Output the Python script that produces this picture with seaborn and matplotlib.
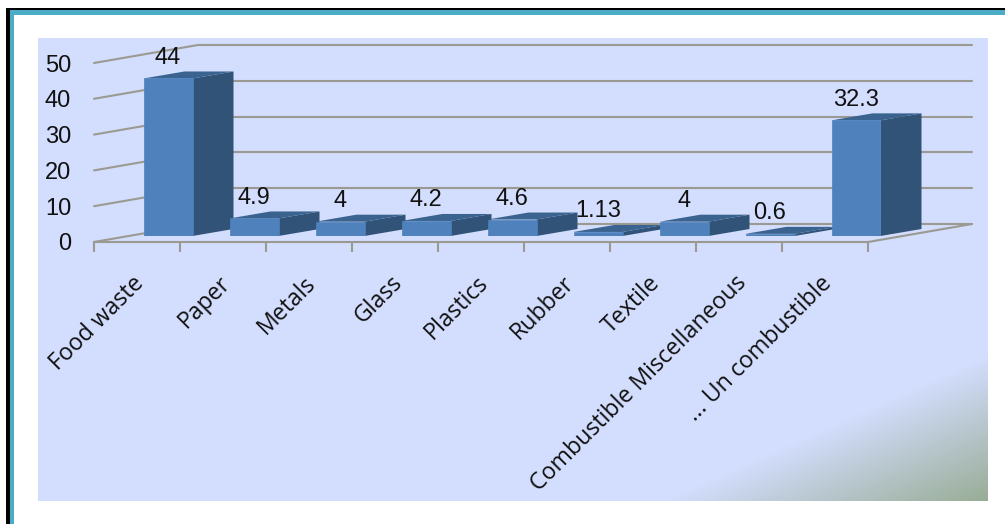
import matplotlib
matplotlib.use("Agg")
import matplotlib.pyplot as plt
import numpy as np
import pandas as pd
import seaborn as sns
from matplotlib.patches import Polygon, Rectangle

categories = ["Food waste", "Paper", "Metals", "Glass", "Plastics", "Rubber",
              "Textile", "Combustible Miscellaneous", "... Un combustible"]
values = [44, 4.9, 4, 4.2, 4.6, 1.13, 4, 0.6, 32.3]
value_labels = ["44", "4.9", "4", "4.2", "4.6", "1.13", "4", "0.6", "32.3"]
y_ticks = [0, 10, 20, 30, 40, 50]

W, H = 1005, 524
FRONT, SIDE, TOP = "#4f81bd", "#325378", "#3a6390"
GRID = "#9b9a92"


def px_axes(fig, left, top, right, bottom):
    # axes from pixel box, y counted from the top like in the picture
    return fig.add_axes([left / W, 1 - bottom / H, (right - left) / W, (bottom - top) / H])


df = pd.DataFrame({"category": categories, "value": values})

sns.set_theme(style="white")
fig = plt.figure(figsize=(W / 100, H / 100), dpi=100, facecolor="white")

# frame and panel with the green corner
bg = fig.add_axes([0, 0, 1, 1], zorder=0)
bg.axis("off")
bg.add_patch(Rectangle((6, 8), W, H, fc="#000000", ec="none"))
bg.add_patch(Rectangle((9.5, 10), W, H, fc="#4bacc6", ec="none"))
bg.add_patch(Rectangle((14, 15), W, H, fc="white", ec="none"))
xx, yy = np.meshgrid(np.arange(38, 988), np.arange(38, 501))
nx, ny = 143, 320
t = ((xx - 665) * nx + (yy - 500) * ny) / ((987 - 665) * nx)
t = np.clip(t, 0, 1)[..., None]
c0, c1 = np.array([211, 221, 253]) / 255, np.array([152, 173, 150]) / 255
bg.imshow(c0 + (c1 - c0) * t, extent=(38, 988, 501, 38), aspect="auto", zorder=1)
bg.set_xlim(0, W)
bg.set_ylim(H, 0)

# front plane of the axis
ax = px_axes(fig, 94, 63, 868, 242)
ax.set_zorder(1)
ax.patch.set_alpha(0)
ax.set_xlim(-0.5, 8.5)
ax.set_ylim(0, 50)
depth_x, depth_y = 104 / 86, 18 / 3.58

for v in y_ticks:
    ax.plot([-0.5, -0.5 + depth_x], [v, v + depth_y], color=GRID, lw=1.5, clip_on=False)
    ax.plot([-0.5 + depth_x, 8.5 + depth_x], [v + depth_y, v + depth_y], color=GRID, lw=1.5, clip_on=False)
ax.plot([8.5, 8.5 + depth_x], [0, depth_y], color=GRID, lw=1.5, clip_on=False)
ax.set_xticks(np.arange(-0.5, 9.5))
ax.set_xticklabels([])
ax.set_yticks(y_ticks)
ax.set_yticklabels(y_ticks, family="Liberation Sans", fontsize=17, color="#111111")
ax.tick_params(axis="y", length=0, pad=16.5)
ax.tick_params(axis="x", length=7, width=1.5, color=GRID, bottom=True)
ax.grid(False)
sns.despine(ax=ax, left=True, top=True, right=True)
ax.spines["bottom"].set_color(GRID)
ax.spines["bottom"].set_linewidth(1.5)

for i, name in enumerate(categories):
    ax.annotate(name, (i, 0), xytext=(-3.5, -21), textcoords="offset points", rotation=45,
                ha="right", va="top", rotation_mode="anchor", family="Open Sans",
                fontsize=16.7, color="#111111")

# bars sit a little back from the front plane
bars = px_axes(fig, 94 + 31, 57, 868 + 31, 236)
bars.set_zorder(2)
bars.patch.set_alpha(0)
bar_w = 49 / 86
sns.barplot(df, x="category", y="value", color=FRONT, saturation=1, width=bar_w,
            edgecolor=FRONT, linewidth=0.5, ax=bars, zorder=3)
bars.set_xlim(-0.5, 8.5)
bars.set_ylim(0, 50)
bars.axis("off")
dx, dy = 41 / 86, 7 / 3.58
for i, v in enumerate(values):
    l, r = i - bar_w / 2, i + bar_w / 2
    bars.add_patch(Polygon([(r, 0), (r + dx, dy), (r + dx, v + dy), (r, v)], fc=SIDE, ec="none", clip_on=False, zorder=2))
    bars.add_patch(Polygon([(l, v), (r, v), (r + dx, v + dy), (l + dx, v + dy)], fc=TOP, ec="none", clip_on=False, zorder=2))
    bars.annotate(value_labels[i], (i, v), xytext=(0, 15), textcoords="offset points", ha="center",
                  va="center", family="Liberation Sans", fontsize=17, color="#111111", annotation_clip=False)

fig.savefig("out.png", dpi=100)
